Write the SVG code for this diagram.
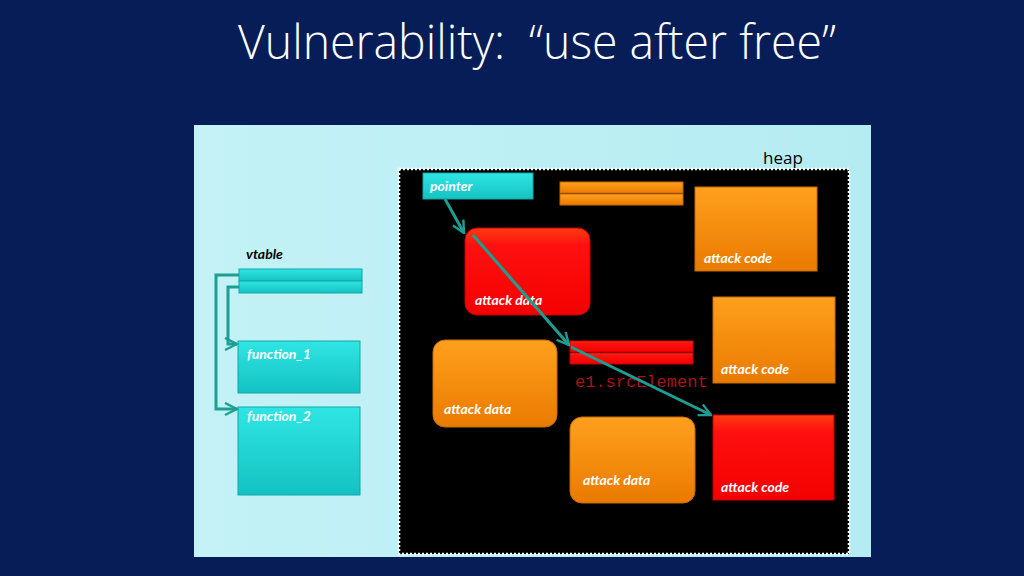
<svg xmlns="http://www.w3.org/2000/svg" width="1024" height="576" viewBox="0 0 1024 576">
<defs>
<linearGradient id="gCyan" x1="0" y1="0" x2="0" y2="1"><stop offset="0" stop-color="#2fe6e4"/><stop offset="1" stop-color="#14c2c2"/></linearGradient>
<linearGradient id="gOrange" x1="0" y1="0" x2="0" y2="1"><stop offset="0" stop-color="#ffa01e"/><stop offset="1" stop-color="#ea7a00"/></linearGradient>
<linearGradient id="gRed" x1="0" y1="0" x2="0" y2="1"><stop offset="0" stop-color="#ff3a10"/><stop offset="0.2" stop-color="#ff1010"/><stop offset="1" stop-color="#f40000"/></linearGradient>
<linearGradient id="gPanel" x1="0" y1="0" x2="1" y2="0"><stop offset="0" stop-color="#c4f2f6"/><stop offset="1" stop-color="#b4ecf2"/></linearGradient>
<marker id="arr" viewBox="0 0 10 10" refX="9" refY="5" markerWidth="5" markerHeight="5" orient="auto" markerUnits="strokeWidth"><path d="M1,1 L9,5 L1,9" fill="none" stroke="#1c9f92" stroke-width="1.6"/></marker>
</defs>
<style>
.lbl{font-family:Lato,"Open Sans","Liberation Sans",sans-serif;font-weight:bold;font-style:italic;font-size:14px;fill:#ffffff}
.conn{fill:none;stroke:#1c9f92;stroke-width:3;marker-end:url(#arr)}
.cyan{fill:url(#gCyan);stroke:#10a8a8;stroke-width:1}
.orange{fill:url(#gOrange);stroke:#c86a00;stroke-width:1}
.red{fill:url(#gRed);stroke:#c00000;stroke-width:1}
</style>
<rect x="0" y="0" width="1024" height="576" fill="#071d58"/>
<text x="537" y="59" text-anchor="middle" font-family="'Open Sans','Liberation Sans',sans-serif" font-weight="300" font-size="48" fill="#ffffff" textLength="598" lengthAdjust="spacingAndGlyphs" xml:space="preserve">Vulnerability:  “use after free”</text>
<rect x="194" y="125" width="677" height="432" fill="url(#gPanel)"/>
<g id="heap">
<rect x="399" y="169" width="450" height="385" fill="#000000" stroke="#ffffff" stroke-width="2.5" stroke-dasharray="2,2"/>
<text x="763" y="164" font-family="'Open Sans','Liberation Sans',sans-serif" font-size="17" fill="#000000">heap</text>
</g>
<g id="vtable">
<text x="246" y="259" font-family="Lato,'Open Sans','Liberation Sans',sans-serif" font-weight="bold" font-style="italic" font-size="14" fill="#000000">vtable</text>
<rect x="239" y="269" width="123" height="12" class="cyan"/>
<rect x="239" y="281" width="123" height="12" class="cyan"/>
</g>
<g id="function_1"><rect x="238" y="341" width="122" height="52" class="cyan"/><text x="247" y="359" class="lbl">function_1</text></g>
<g id="function_2"><rect x="238" y="407" width="122" height="88" class="cyan"/><text x="247" y="421" class="lbl">function_2</text></g>
<g id="pointer"><rect x="423" y="173" width="110" height="26" class="cyan"/><text x="430" y="191" class="lbl">pointer</text></g>
<g id="orange_bar"><rect x="560" y="182" width="123" height="11" class="orange"/><rect x="560" y="194" width="123" height="11" class="orange"/></g>
<g id="attack_data_red"><rect x="465" y="228" width="125" height="87" rx="12" class="red"/><text x="475" y="305" class="lbl">attack data</text></g>
<g id="attack_code_1"><rect x="695" y="187" width="122" height="84" class="orange"/><text x="704" y="263" class="lbl">attack code</text></g>
<g id="attack_code_2"><rect x="713" y="297" width="122" height="86" class="orange"/><text x="721" y="374" class="lbl">attack code</text></g>
<g id="e1_srcElement"><rect x="570" y="341" width="123" height="11" class="red"/><rect x="570" y="353" width="123" height="11" class="red"/><text x="575" y="387" font-family="'Liberation Mono','DejaVu Sans Mono',monospace" font-size="17" fill="#a81414">e1.srcElement</text></g>
<g id="attack_data_2"><rect x="433" y="340" width="124" height="87" rx="12" class="orange"/><text x="444" y="414" class="lbl">attack data</text></g>
<g id="attack_data_3"><rect x="570" y="417" width="125" height="86" rx="12" class="orange"/><text x="583" y="485" class="lbl">attack data</text></g>
<g id="attack_code_red"><rect x="713" y="415" width="121" height="85" class="red"/><text x="721" y="492" class="lbl">attack code</text></g>
<g id="connectors">
<path class="conn" d="M239,275 H216 V409 H237"/>
<path class="conn" d="M239,287 H228 V344 H237"/>
<path class="conn" d="M445,199 L464,233"/>
<path class="conn" d="M473,235 L569,345"/>
<path class="conn" d="M571,347 L711,415"/>
</g>
</svg>
